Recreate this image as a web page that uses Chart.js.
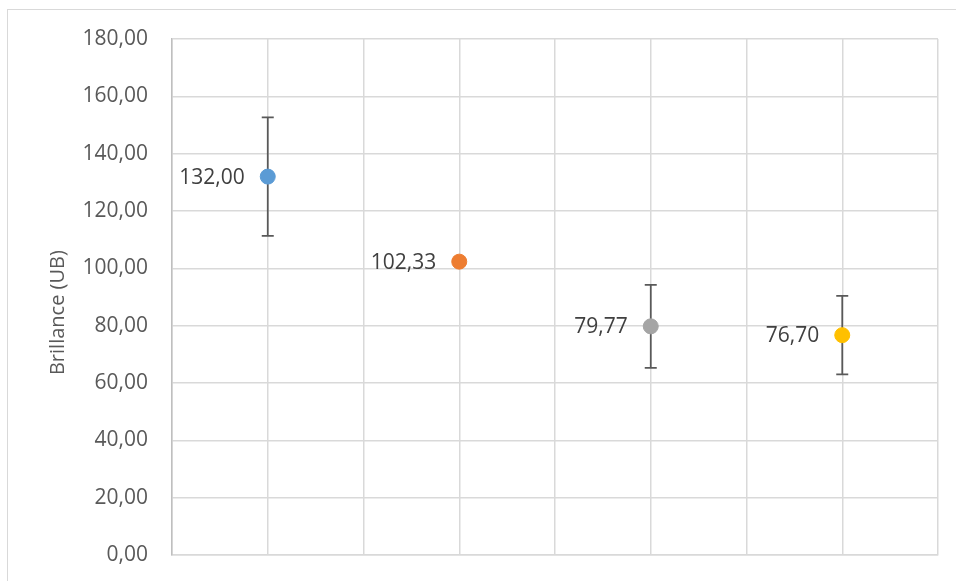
<!DOCTYPE html>
<html>
<head>
<meta charset="utf-8">
<script src="https://cdn.jsdelivr.net/npm/chart.js@4"></script>
<style>
  html, body { margin: 0; padding: 0; background: #fff; overflow: hidden; }
  #frame { position: absolute; left: 7px; top: 9px; width: 1000px; height: 700px; border: 1px solid #d9d9d9; }
  #chart { position: absolute; left: 0; top: 0; }
</style>
</head>
<body>
<div id="frame"></div>
<canvas id="chart" width="956" height="581"></canvas>
<script>
// chart values
const xPositions = [1, 3, 5, 7];
const brillance = [132.00, 102.33, 79.77, 76.70];
const errors = [20.7, 0, 14.5, 13.7];
const pointColors = ['#5B9BD5', '#ED7D31', '#A5A5A5', '#FFC000'];
const yTicks = [0, 20, 40, 60, 80, 100, 120, 140, 160, 180];

const fmt = v => v.toFixed(2).replace('.', ',');
const FONT = '"Open Sans", "Noto Sans", sans-serif';

// error bars drawn under the points, using the chart scales
const errorBars = {
  id: 'errorBars',
  beforeDatasetsDraw(chart) {
    const { ctx, scales: { x, y } } = chart;
    ctx.save();
    ctx.strokeStyle = '#595959';
    ctx.lineWidth = 1.75;
    xPositions.forEach((xv, i) => {
      if (!errors[i]) return;
      const px = x.getPixelForValue(xv);
      const top = y.getPixelForValue(brillance[i] + errors[i]);
      const bot = y.getPixelForValue(brillance[i] - errors[i]);
      ctx.beginPath();
      ctx.moveTo(px, top); ctx.lineTo(px, bot);
      ctx.moveTo(px - 6, top); ctx.lineTo(px + 6, top);
      ctx.moveTo(px - 6, bot); ctx.lineTo(px + 6, bot);
      ctx.stroke();
    });
    ctx.restore();
  }
};

// value labels on the left of each point
const valueLabels = {
  id: 'valueLabels',
  afterDatasetsDraw(chart) {
    const { ctx } = chart;
    const meta = chart.getDatasetMeta(0);
    ctx.save();
    ctx.font = '21px ' + FONT;
    ctx.fillStyle = '#404040';
    ctx.textAlign = 'right';
    ctx.textBaseline = 'middle';
    meta.data.forEach((pt, i) => {
      ctx.fillText(fmt(brillance[i]), pt.x - 23, pt.y + 1);
    });
    ctx.restore();
  }
};

new Chart(document.getElementById('chart'), {
  type: 'scatter',
  data: {
    datasets: [{
      data: xPositions.map((xv, i) => ({ x: xv, y: brillance[i] })),
      pointBackgroundColor: pointColors,
      pointBorderColor: pointColors,
      pointRadius: 7.5,
      pointHoverRadius: 7.5,
      showLine: false
    }]
  },
  options: {
    responsive: false,
    animation: false,
    events: [],
    layout: { padding: { top: 39, right: 18, bottom: 26, left: 0 } },
    plugins: { legend: { display: false }, tooltip: { enabled: false } },
    scales: {
      x: {
        type: 'linear', min: 0, max: 8,
        afterFit: s => { s.height = 0; },
        ticks: { display: false, stepSize: 1 },
        grid: { color: '#d9d9d9', lineWidth: 1.5, drawTicks: false },
        border: { color: '#d9d9d9', width: 1.5 }
      },
      y: {
        min: 0, max: 180,
        afterBuildTicks: s => { s.ticks = yTicks.map(v => ({ value: v })); },
        afterFit: s => { s.width = 172; s.paddingTop = 0; s.paddingBottom = 0; },
        ticks: {
          color: '#595959', padding: 24,
          font: { family: FONT, size: 21 },
          callback: v => fmt(v)
        },
        grid: { color: '#d9d9d9', lineWidth: 1.5, drawTicks: false },
        border: { color: '#bfbfbf', width: 1.5 },
        title: {
          display: true, text: 'Brillance (UB)      ',
          color: '#595959', font: { family: FONT, size: 20 },
          padding: { top: 46, bottom: 0 }
        }
      }
    }
  },
  plugins: [errorBars, valueLabels]
});
</script>
</body>
</html>
